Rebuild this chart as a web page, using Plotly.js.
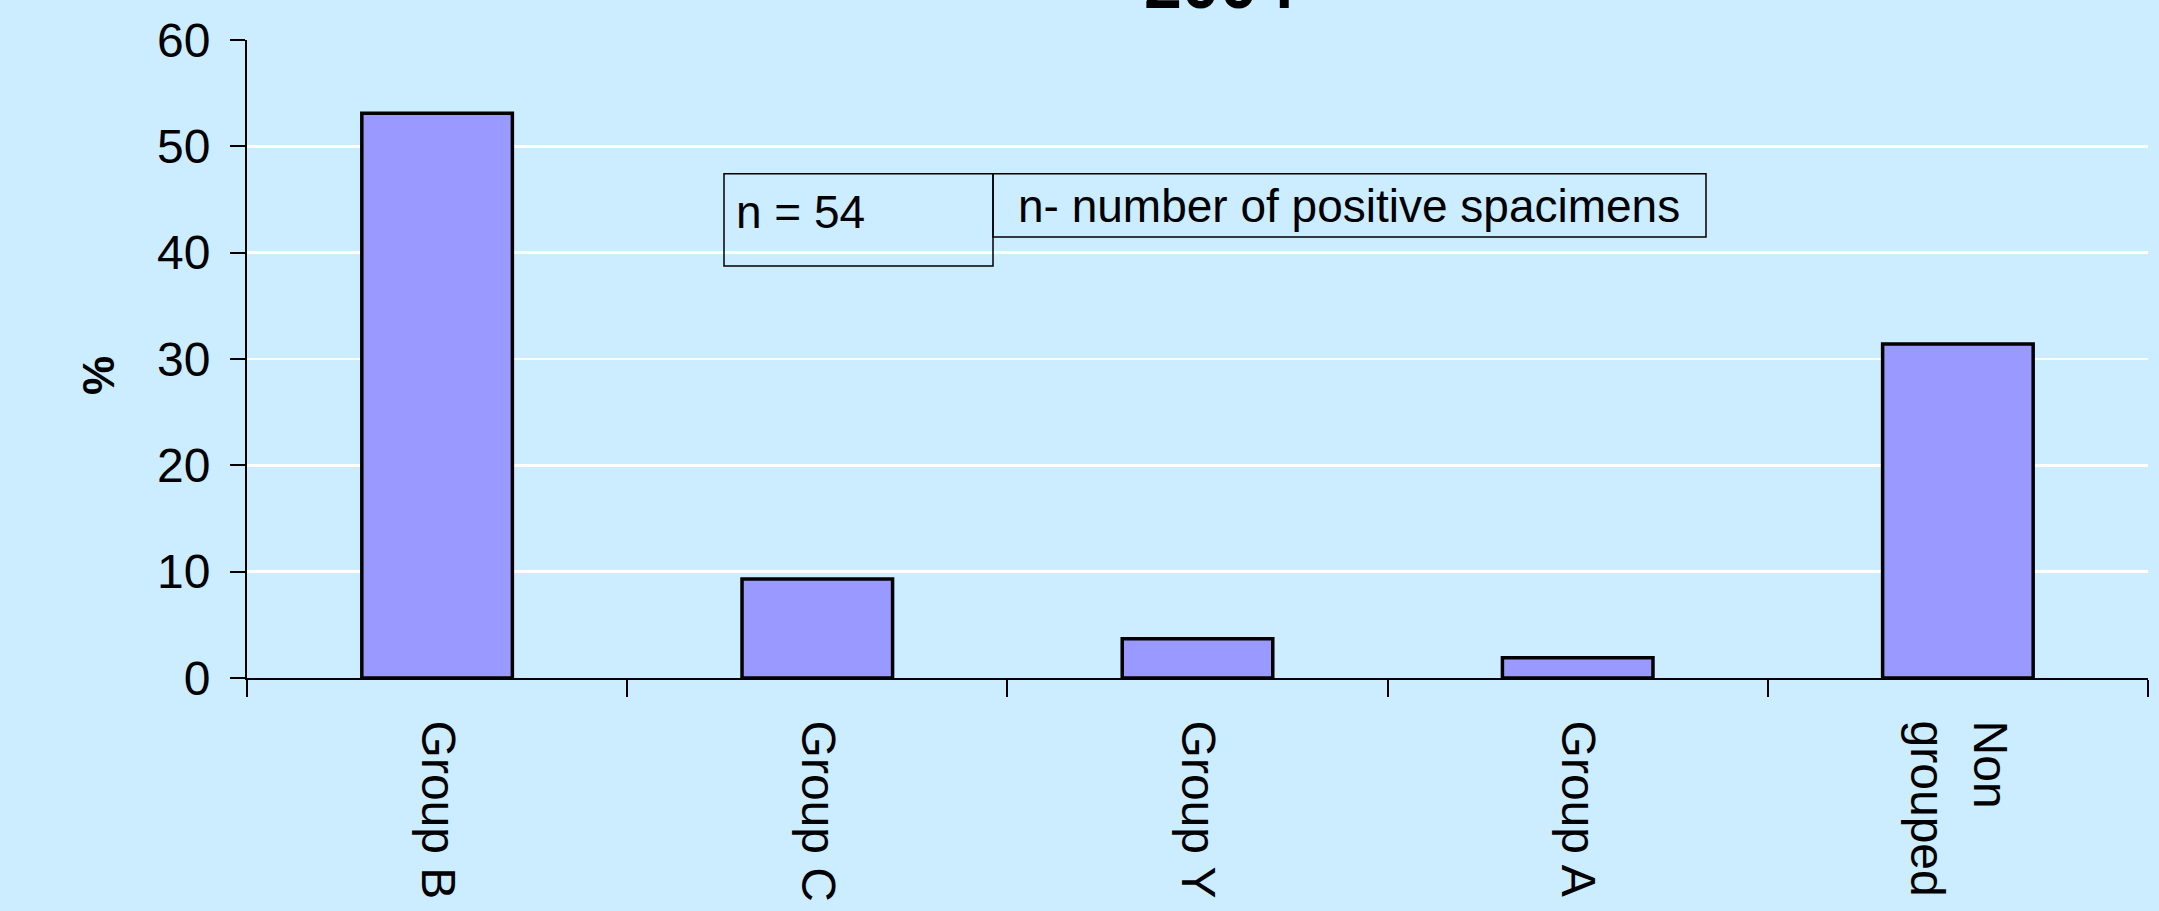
<!DOCTYPE html>
<html>
<head>
<meta charset="utf-8">
<script src="https://cdn.plot.ly/plotly-3.0.1.min.js"></script>
<style>
  html, body { margin: 0; padding: 0; background: #CCECFF; }
  #chart { width: 2159px; height: 911px; }
</style>
</head>
<body>
<div id="chart"></div>
<script>
// ---- data ----
const categories = ["Group B", "Group C", "Group Y", "Group A", "Non<br>grouped"];
const percentValues = [53.1, 9.3, 3.7, 1.9, 31.4];
const yTickValues = [0, 10, 20, 30, 40, 50, 60];
const chartTitle = "2004";
const yAxisLabel = "%";
const sampleSizeText = "n = 54";
const legendNoteText = "n- number of positive spacimens";

// ---- layout helpers (pixel -> paper) ----
const W = 2159, H = 911;
const plotL = 247, plotR = 2148, plotT = 40.3, plotB = 677.7;
const px = (x) => (x - plotL) / (plotR - plotL);
const py = (y) => (plotB - y) / (plotB - plotT);

const FONT = '"Liberation Sans", Arial, Helvetica, sans-serif';

const trace = {
  type: 'bar',
  x: categories,
  y: percentValues,
  marker: { color: '#9999FF', line: { color: '#000000', width: 3.5 } },
  hoverinfo: 'x+y'
};

const layout = {
  width: W, height: H,
  paper_bgcolor: '#CCECFF',
  plot_bgcolor: '#CCECFF',
  margin: { l: plotL, r: W - plotR, t: plotT, b: H - plotB, pad: 0 },
  showlegend: false,
  bargap: 0.604,
  font: { family: FONT, color: '#000000', size: 46 },
  xaxis: {
    type: 'category',
    showline: true, linecolor: '#000000', linewidth: 2,
    ticks: 'outside', tickson: 'boundaries', ticklen: 17, tickwidth: 2, tickcolor: '#000000',
    tickangle: 90,
    ticklabelstandoff: 31,
    tickfont: { family: FONT, size: 48, color: '#000000' },
    showgrid: false, zeroline: false,
    fixedrange: true
  },
  yaxis: {
    range: [0, 60],
    tickvals: yTickValues,
    ticktext: yTickValues.map(String),
    showline: true, linecolor: '#000000', linewidth: 2,
    ticks: 'outside', ticklen: 15, tickwidth: 2, tickcolor: '#000000',
    ticklabelstandoff: 10,
    tickfont: { family: FONT, size: 48, color: '#000000' },
    showgrid: true, gridcolor: '#FFFFFF', gridwidth: 2.5,
    zeroline: false,
    fixedrange: true
  },
  shapes: [
    { type: 'rect', xref: 'paper', yref: 'paper',
      x0: px(724), x1: px(993), y0: py(266), y1: py(174),
      line: { color: '#000000', width: 1.5 }, fillcolor: 'rgba(0,0,0,0)' },
    { type: 'rect', xref: 'paper', yref: 'paper',
      x0: px(993), x1: px(1706), y0: py(237), y1: py(174),
      line: { color: '#000000', width: 1.5 }, fillcolor: 'rgba(0,0,0,0)' }
  ],
  annotations: [
    { text: '<b>' + chartTitle + '</b>', xref: 'paper', yref: 'paper',
      x: px(1219), y: py(-16), xanchor: 'center', yanchor: 'middle',
      showarrow: false, font: { family: FONT, size: 68, color: '#000000' } },
    { text: '<b>' + yAxisLabel + '</b>', xref: 'paper', yref: 'paper',
      x: px(98), y: py(376), xanchor: 'center', yanchor: 'middle', textangle: -90,
      showarrow: false, font: { family: FONT, size: 44, color: '#000000' } },
    { text: sampleSizeText, xref: 'paper', yref: 'paper',
      x: px(734), y: py(212), xanchor: 'left', yanchor: 'middle',
      showarrow: false, font: { family: FONT, size: 46, color: '#000000' } },
    { text: legendNoteText, xref: 'paper', yref: 'paper',
      x: px(1016), y: py(206), xanchor: 'left', yanchor: 'middle',
      showarrow: false, font: { family: FONT, size: 46, color: '#000000' } }
  ]
};

Plotly.newPlot('chart', [trace], layout, { displayModeBar: false, staticPlot: true });
</script>
</body>
</html>
